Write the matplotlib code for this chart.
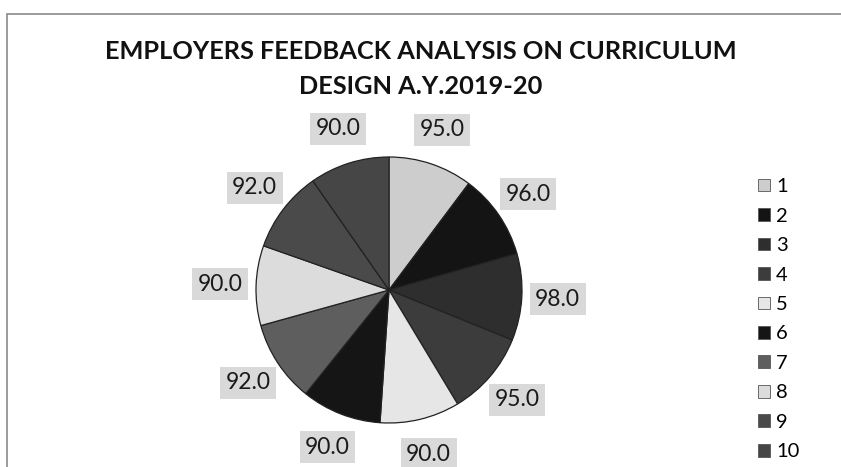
import matplotlib
matplotlib.use("Agg")
import matplotlib.pyplot as plt
from matplotlib.patches import Patch, Rectangle

categories = ["1", "2", "3", "4", "5", "6", "7", "8", "9", "10"]
values = [95.0, 96.0, 98.0, 95.0, 90.0, 90.0, 92.0, 90.0, 92.0, 90.0]
colors = ["#cdcdcd", "#141414", "#2e2e2e", "#3c3c3c", "#e6e6e6",
          "#151515", "#5e5e5e", "#dcdcdc", "#4a4a4a", "#464646"]
title = "EMPLOYERS FEEDBACK ANALYSIS ON CURRICULUM\nDESIGN A.Y.2019-20"

plt.rcParams['font.family'] = ['Lato', 'DejaVu Sans']

W, H = 841, 467
fig = plt.figure(figsize=(W / 100, H / 100), dpi=100)
fig.patch.set_facecolor("white")

# frame border
fig.add_artist(Rectangle((7 / W, -0.01), 1.0, 1 - 14 / H + 0.01, transform=fig.transFigure,
                         fill=False, edgecolor="#8a8a8a", linewidth=1.2))

cx, cy, r = 389, 290, 133
lim = 1.4
size = 2 * lim * r
ax = fig.add_axes([(cx - size / 2) / W, (H - cy - size / 2) / H, size / W, size / H])

labels = [f"{v:.1f}" for v in values]
wedges, texts = ax.pie(values, colors=colors, startangle=90, counterclock=False,
                       labels=labels, labeldistance=1.27,
                       wedgeprops=dict(edgecolor="#222222", linewidth=0.9),
                       textprops=dict(fontsize=16.5, color="#1a1a1a"))
ax.set_xlim(-lim, lim)
ax.set_ylim(-lim, lim)
ax.set_aspect("equal")
ax.axis("off")
for t in texts:
    t.set_ha("center")
    t.set_va("center")
    t.set_bbox(dict(facecolor="#d9d9d9", edgecolor="none", pad=4))
    t.set_clip_on(False)

fig.text(0.5, 1 - 69 / H, title, ha="center", va="center", fontsize=18.3,
         fontweight="bold", color="#111111", linespacing=1.6)

handles = [Patch(facecolor=c, edgecolor="#555555", linewidth=0.6) for c in colors]
fig.legend(handles, categories, loc="upper left", bbox_to_anchor=(750 / W, 1 - 170 / H),
           frameon=False, fontsize=14.5, handlelength=0.6, handleheight=0.6,
           handletextpad=0.3, labelspacing=0.62, borderaxespad=0)

fig.savefig("out.png", dpi=100)
